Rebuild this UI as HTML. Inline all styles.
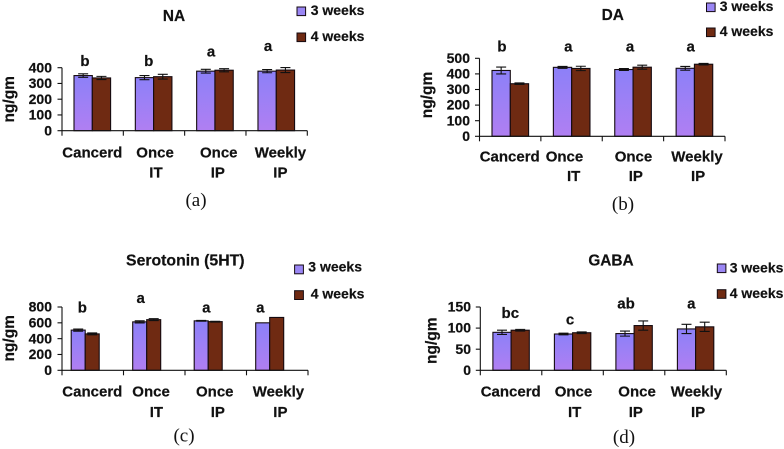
<!DOCTYPE html>
<html lang="en">
<head>
<meta charset="utf-8">
<title>Neurotransmitter levels</title>
<style>
html,body{margin:0;padding:0;background:#fff;}
#figure{display:block;width:784px;height:449px;filter:blur(0.35px);}
text{font-family:"Liberation Sans",sans-serif;font-weight:bold;fill:#111;stroke:#111;stroke-width:0.2px;}
text.cap{font-family:"Liberation Serif",serif;font-weight:normal;font-size:19px;stroke:none;}
</style>
</head>
<body>
<svg id="figure" xmlns="http://www.w3.org/2000/svg" width="784" height="449" viewBox="0 0 784 449">
<defs>
<linearGradient id="purpleFill" x1="0" y1="0" x2="0" y2="1">
<stop offset="0" stop-color="#8c80f8"/>
<stop offset="1" stop-color="#b07ff2"/>
</linearGradient>
</defs>
</svg>
<script>
const seriesNames = ['3 weeks', '4 weeks'];
const groupLines = [['Cancerd', ''], ['Once', 'IT'], ['Once', 'IP'], ['Weekly', 'IP']];

const naWeek3 = [350, 337, 378, 378];
const naWeek4 = [335, 343, 384, 385];
const naErr3 = [11, 13, 12, 10];
const naErr4 = [10, 15, 10, 16];
const naTicks = [0, 100, 200, 300, 400];
const naLetters = ['b', 'b', 'a', 'a'];

const daWeek3 = [422, 442, 428, 436];
const daWeek4 = [337, 435, 443, 462];
const daErr3 = [22, 6, 6, 12];
const daErr4 = [5, 14, 13, 5];
const daTicks = [0, 100, 200, 300, 400, 500];
const daLetters = ['b', 'a', 'a', 'a'];

const htWeek3 = [508, 612, 625, 600];
const htWeek4 = [460, 640, 615, 668];
const htErr3 = [14, 14, 5, 0];
const htErr4 = [12, 12, 5, 0];
const htTicks = [0, 200, 400, 600, 800];
const htLetters = ['b', 'a', 'a', 'a'];

const gabaWeek3 = [90, 86, 87, 98];
const gabaWeek4 = [95, 89, 106, 103];
const gabaErr3 = [5, 2, 6, 11];
const gabaErr4 = [2, 2, 11, 11];
const gabaTicks = [0, 50, 100, 150];
const gabaLetters = ['bc', 'c', 'ab', 'a'];

const panels = [
  {
    id: 'na', title: 'NA', caption: '(a)',
    week3: naWeek3, week4: naWeek4, err3: naErr3, err4: naErr4, ticks: naTicks, letters: naLetters,
    layout: {
      x0: 62, x1: 307.3, y0: 130.7, yTop: 67.7, inset: 12, barW: 18.3, tickRight: 52,
      titleX: 174, titleY: 21, titleSize: 15.4,
      swX: 297, swY: [7, 33], swW: 8.6, legX: [310.7, 310.7], legY: [15, 41],
      catX: [62.3, 136.3, 200, 254.7], cat2X: [0, 149.3, 210.7, 273.3], catY: 157.7, cat2Y: 177.7,
      letterX: [85, 148.7, 211, 268], letterY: [66, 66, 56.7, 51],
      ylabX: 14, ylabY: 99.3, capX: 196, capY: 206
    }
  },
  {
    id: 'da', title: 'DA', caption: '(b)',
    week3: daWeek3, week4: daWeek4, err3: daErr3, err4: daErr4, ticks: daTicks, letters: daLetters,
    layout: {
      x0: 479.5, x1: 725, y0: 136.3, yTop: 58.3, inset: 12.5, barW: 18.3, tickRight: 470,
      titleX: 612.7, titleY: 20, titleSize: 15.4,
      swX: 706.5, swY: [3, 28], swW: 8.6, legX: [719.7, 719.7], legY: [11, 36],
      catX: [479.7, 545.7, 614.7, 671.3], cat2X: [0, 567, 628.7, 691], catY: 161.7, cat2Y: 181,
      letterX: [502, 568.3, 630, 690.7], letterY: [51.7, 51.7, 51.7, 51.7],
      ylabX: 432, ylabY: 95, capX: 623, capY: 210
    }
  },
  {
    id: 'serotonin', title: 'Serotonin (5HT)', caption: '(c)',
    week3: htWeek3, week4: htWeek4, err3: htErr3, err4: htErr4, ticks: htTicks, letters: htLetters,
    layout: {
      x0: 62, x1: 308, y0: 370.3, yTop: 307, inset: 9.2, barW: 14, tickRight: 52,
      titleX: 185.3, titleY: 265.7, titleSize: 15.8,
      swX: 294.6, swY: [265, 290.7], swW: 8.8, legX: [308.3, 310.7], legY: [271.7, 298.7],
      catX: [62.3, 132.3, 196, 252.7], cat2X: [0, 149.7, 210.7, 273.3], catY: 396.7, cat2Y: 417,
      letterX: [82.3, 140.7, 206.3, 260.3], letterY: [312.3, 303, 312.3, 312.3],
      ylabX: 14, ylabY: 338.3, capX: 184, capY: 441.7
    }
  },
  {
    id: 'gaba', title: 'GABA', caption: '(d)',
    week3: gabaWeek3, week4: gabaWeek4, err3: gabaErr3, err4: gabaErr4, ticks: gabaTicks, letters: gabaLetters,
    layout: {
      x0: 480.3, x1: 726.3, y0: 370.3, yTop: 307, inset: 12.6, barW: 18.2, tickRight: 471,
      titleX: 611, titleY: 265.7, titleSize: 15.4,
      swX: 717.3, swY: [264, 289.7], swW: 8.6, legX: [729.7, 729.7], legY: [272.3, 298],
      catX: [480.7, 554.7, 618.3, 670.7], cat2X: [0, 568, 628.7, 691], catY: 396.7, cat2Y: 417,
      letterX: [510.3, 570, 626, 691.3], letterY: [318, 324.3, 308.7, 308.7],
      ylabX: 436.3, ylabY: 340.7, capX: 624, capY: 443
    }
  }
];

const svg = document.getElementById('figure');
const NS = 'http://www.w3.org/2000/svg';

function make(tag, parent, attrs, content) {
  const el = document.createElementNS(NS, tag);
  for (const k in attrs) el.setAttribute(k, attrs[k]);
  if (content !== undefined) el.textContent = content;
  parent.appendChild(el);
  return el;
}

function line(parent, x1, y1, x2, y2, w) {
  return make('line', parent, { x1: x1, y1: y1, x2: x2, y2: y2, stroke: '#111', 'stroke-width': w || 1 });
}

panels.forEach(function (p) {
  const L = p.layout;
  const maxTick = p.ticks[p.ticks.length - 1];
  const yScale = function (v) { return L.y0 - (v / maxTick) * (L.y0 - L.yTop); };
  const step = (L.x1 - L.x0) / p.week3.length;
  const barX = function (g, s) { return L.x0 + g * step + L.inset + s * L.barW; };

  const g = make('g', svg, {});
  
  

  const title = make('text', g, { x: L.titleX, y: L.titleY, 'text-anchor': 'middle', 'font-size': L.titleSize }, p.title);
  
  

  const ylab = make('text', g, {
    x: L.ylabX, y: L.ylabY, 'text-anchor': 'middle', 'font-size': 15.5,
    transform: 'rotate(-90 ' + L.ylabX + ' ' + L.ylabY + ')'
  }, 'ng/gm');
  
  

  p.week3.forEach(function (v, i) {
    [[v, p.err3[i], 'url(#purpleFill)', 'week3'], [p.week4[i], p.err4[i], '#6f2a12', 'week4']].forEach(function (d, s) {
      const x = barX(i, s);
      const y = yScale(d[0]);
      const bar = make('rect', g, {
        x: x, y: y, width: L.barW, height: L.y0 - y,
        fill: d[2], stroke: '#140a10', 'stroke-width': 1.1
      });
      
      
      if (d[1] > 0) {
        const cx = x + L.barW / 2;
        const eb = make('path', g, {
          d: 'M' + cx + ' ' + yScale(d[0] + d[1]) + 'V' + yScale(d[0] - d[1]) +
             'M' + (cx - 5) + ' ' + yScale(d[0] + d[1]) + 'H' + (cx + 5) +
             'M' + (cx - 5) + ' ' + yScale(d[0] - d[1]) + 'H' + (cx + 5),
          stroke: '#111', 'stroke-width': 1.1, fill: 'none'
        });
        
        
      }
    });
  });

  const yAxis = line(g, L.x0, L.yTop, L.x0, L.y0, 1.1);
  
  
  const xAxis = line(g, L.x0, L.y0, L.x1, L.y0, 1.1);
  
  

  p.ticks.forEach(function (t) {
    const y = yScale(t);
    const mark = line(g, L.x0 - 4.5, y, L.x0, y, 1.1);
    
    
    const lab = make('text', g, { x: L.tickRight, y: y + 4.6, 'text-anchor': 'end', 'font-size': 14 }, String(t));
    
    
  });

  for (let i = 0; i <= p.week3.length; i++) {
    const x = L.x0 + i * step;
    const mark = line(g, x, L.y0, x, L.y0 + 5, 1.1);
    
    
  }

  groupLines.forEach(function (lines, i) {
    const c1 = make('text', g, { x: L.catX[i], y: L.catY, 'font-size': 15 }, lines[0]);
    
    
    if (lines[1]) {
      const c2 = make('text', g, { x: L.cat2X[i], y: L.cat2Y, 'font-size': 15 }, lines[1]);
      
      
    }
  });

  p.letters.forEach(function (s, i) {
    const t = make('text', g, { x: L.letterX[i], y: L.letterY[i], 'text-anchor': 'middle', 'font-size': 15 }, s);
    
    
  });

  seriesNames.forEach(function (name, s) {
    const sw = make('rect', g, {
      x: L.swX, y: L.swY[s], width: L.swW, height: L.swW,
      fill: s === 0 ? '#9a86f4' : '#6f2a12', stroke: '#140a10', 'stroke-width': 1
    });
    
    
    const t = make('text', g, { x: L.legX[s], y: L.legY[s], 'font-size': 14 }, name);
    
    
  });

  const cap = make('text', g, { x: L.capX, y: L.capY, 'text-anchor': 'middle', 'class': 'cap' }, p.caption);
  
  
});
</script>
</body>
</html>
